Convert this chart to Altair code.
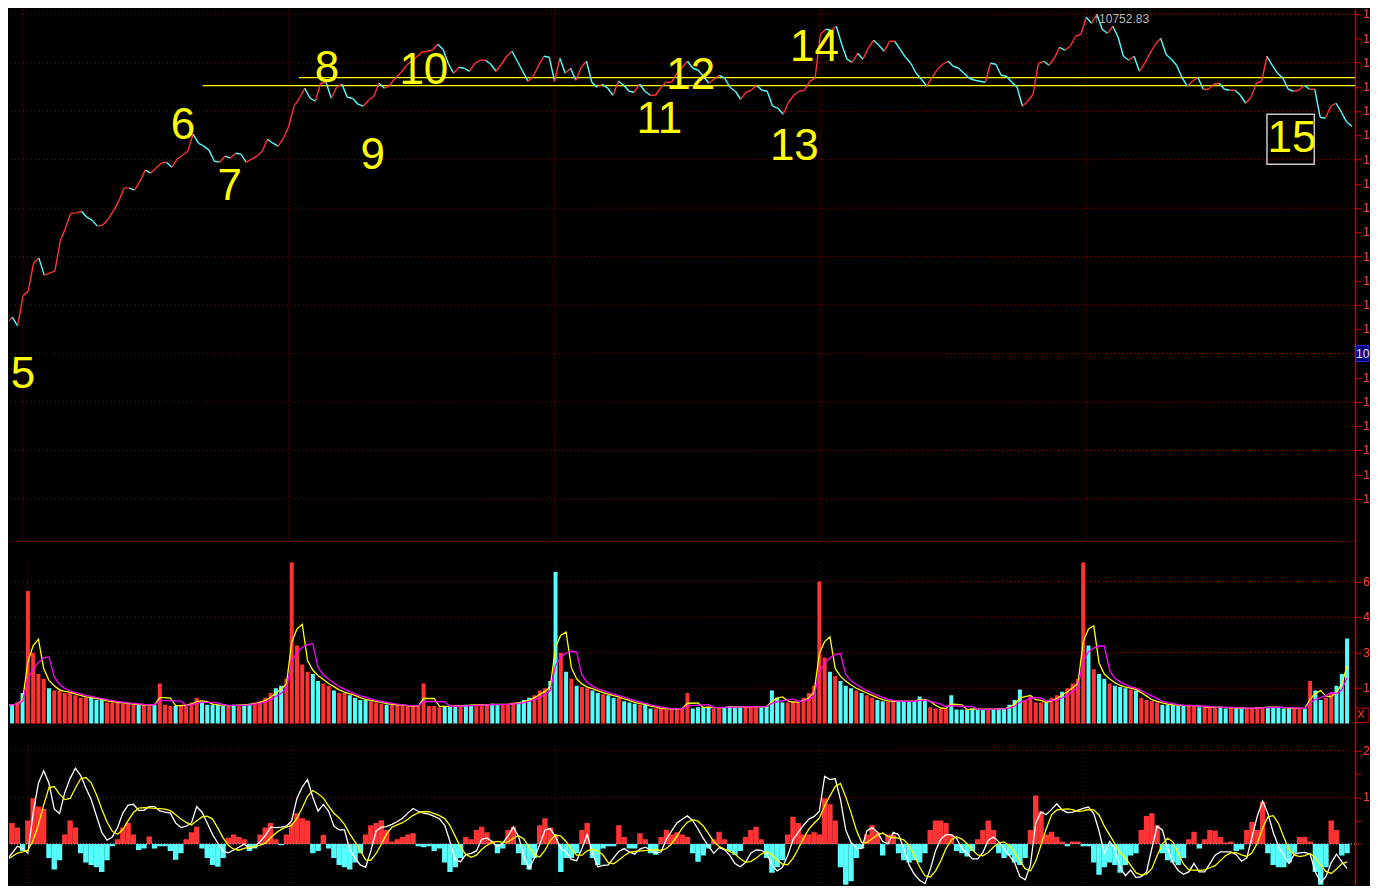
import altair as alt
import pandas as pd

# ---------------- data ----------------
PRICE = [
    10372.8, 10366.5, 10374.0, 10362.8, 10400.3, 10406.5, 10441.5, 10447.8, 10426.5, 10429.0,
    10431.5, 10469.0, 10485.3, 10504.0, 10504.0, 10506.5, 10499.0, 10495.3, 10487.8, 10489.0,
    10496.5, 10506.5, 10519.0, 10535.3, 10535.3, 10532.8, 10544.0, 10557.8, 10554.0, 10560.3,
    10566.5, 10567.8, 10561.5, 10571.5, 10576.5, 10581.5, 10602.8, 10591.5, 10587.8, 10582.8,
    10569.0, 10567.8, 10575.3, 10572.8, 10579.0, 10577.8, 10567.8, 10571.5, 10575.3, 10581.5,
    10596.5, 10591.5, 10587.8, 10597.8, 10612.8, 10637.8, 10647.8, 10660.3, 10647.8, 10644.0,
    10666.5, 10667.8, 10647.8, 10661.5, 10665.3, 10649.0, 10647.8, 10640.3, 10637.8, 10645.3,
    10650.3, 10666.5, 10660.3, 10664.0, 10672.8, 10679.0, 10687.8, 10694.0, 10699.0, 10705.3,
    10706.5, 10707.8, 10715.3, 10709.0, 10691.5, 10679.0, 10686.5, 10685.3, 10681.5, 10691.5,
    10695.3, 10695.3, 10690.3, 10681.5, 10690.3, 10700.3, 10706.5, 10694.0, 10681.5, 10669.0,
    10675.3, 10689.0, 10700.3, 10699.0, 10669.0, 10697.8, 10679.0, 10685.3, 10670.3, 10686.5,
    10694.0, 10667.8, 10661.5, 10665.3, 10660.3, 10651.5, 10669.0, 10664.0, 10656.5, 10655.3,
    10665.3, 10656.5, 10651.5, 10651.5, 10661.5, 10667.8, 10667.8, 10679.0, 10686.5, 10694.0,
    10685.3, 10682.8, 10675.3, 10666.5, 10671.5, 10676.5, 10672.8, 10661.5, 10656.5, 10646.5,
    10655.3, 10657.8, 10664.0, 10657.8, 10656.5, 10637.8, 10635.3, 10627.8, 10642.8, 10651.5,
    10656.5, 10657.8, 10669.0, 10672.8, 10727.8, 10734.0, 10732.8, 10737.8, 10715.3, 10696.5,
    10692.8, 10704.0, 10696.5, 10710.3, 10720.3, 10714.0, 10706.5, 10719.0, 10719.0, 10709.0,
    10699.0, 10691.5, 10679.0, 10671.5, 10662.8, 10674.0, 10684.0, 10690.3, 10694.0, 10687.8,
    10685.3, 10679.0, 10672.8, 10670.3, 10669.0, 10667.8, 10691.5, 10690.3, 10676.5, 10675.3,
    10667.8, 10661.5, 10637.8, 10644.0, 10652.8, 10691.5, 10694.0, 10689.0, 10697.8, 10711.5,
    10707.8, 10712.8, 10725.3, 10727.8, 10749.0, 10741.5, 10752.83, 10734.0, 10729.0, 10737.8,
    10724.0, 10700.3, 10695.3, 10700.3, 10681.5, 10691.5, 10704.0, 10715.3, 10722.8, 10702.8,
    10696.5, 10689.0, 10674.0, 10662.8, 10669.0, 10674.0, 10659.0, 10659.0, 10665.3, 10666.5,
    10659.0, 10657.8, 10657.8, 10651.5, 10641.5, 10649.0, 10666.5, 10669.0, 10700.3, 10689.0,
    10679.0, 10672.8, 10659.0, 10656.5, 10657.8, 10664.0, 10659.0, 10659.0, 10624.0, 10622.8,
    10637.8, 10641.5, 10630.3, 10617.8, 10612.8,
]

VOLUME = [
    8, 8, 9, 13, 56, 30, 21, 19, 15, 14,
    14, 13, 13, 12, 11, 11, 11, 10, 10, 9,
    9, 9, 8.5, 8.5, 8, 8, 8, 8, 8, 17,
    8, 7.5, 7.5, 8, 8, 9, 11, 9, 8, 8,
    8, 7.5, 7.5, 8, 8, 8, 8.5, 9, 9.5, 11,
    13, 15, 16, 19, 68, 33, 25, 22, 21, 18,
    17, 16, 14, 13, 13, 12, 11, 10, 10, 9.5,
    9, 8.5, 8, 8, 8, 7.5, 7.5, 7.5, 7.5, 17,
    7.5, 7.5, 7, 7.5, 7.5, 7.5, 7.5, 8, 8, 8,
    8, 8, 8.5, 8, 8, 8.5, 9, 9, 10, 11,
    12, 14, 15, 18, 64, 30, 22, 19, 16, 15.5,
    15, 14, 13, 12.5, 12, 11, 11, 9.5, 9, 8.5,
    8, 8, 6.5, 6.5, 6.5, 6, 6, 6.5, 6.5, 13,
    6.5, 7, 7, 7, 6.5, 7, 7, 7.5, 7, 7,
    7, 7.5, 7, 7, 7.5, 14, 11, 9, 9, 9.5,
    9, 11, 13, 16, 60, 28, 22, 20, 18, 16,
    15, 14, 13, 12, 11, 10, 9.5, 9.5, 9.5, 9.5,
    9.5, 9.5, 9.5, 11.5, 10, 7, 6.5, 6.5, 6.5, 12,
    6, 6, 6, 6.5, 6, 6, 6.5, 6, 6.5, 6.5,
    8, 10, 14.5, 10, 11.5, 9, 9, 9, 11, 12,
    13.5, 15, 17, 19, 68, 33, 23, 21, 19, 17,
    16, 15.5, 15, 14.5, 14, 11, 10, 9.5, 9, 8,
    8, 8, 7.5, 7.5, 8, 7.5, 7, 7, 7, 7,
    7, 6.5, 7, 6.5, 6.5, 6.5, 6.5, 7, 7, 7,
    7, 7, 6.5, 6.5, 6.5, 6.5, 6.5, 18, 14, 10,
    11, 13, 16, 21, 36,
]

HIST = [
    0.47, 0.45, 0.35, -0.15, 0.5, 0.98, 0.8, 0.75, -0.3, -0.55,
    -0.35, 0.2, 0.5, 0.35, -0.2, -0.4, -0.45, -0.5, -0.6, -0.35,
    -0.05, 0.1, 0.35, 0.45, 0.2, -0.13, -0.1, 0.16, -0.1, -0.05,
    -0.05, -0.15, -0.34, -0.2, 0.1, 0.25, 0.37, -0.1, -0.3, -0.45,
    -0.49, -0.3, 0.13, 0.2, 0.15, 0.1, -0.15, -0.1, 0.2, 0.35,
    0.45, 0.1, -0.03, 0.2, 0.45, 0.66, 0.55, 0.5, -0.2, -0.15,
    0.19, -0.1, -0.3, -0.45, -0.5, -0.55, -0.4, -0.2, 0.2, 0.4,
    0.45, 0.51, 0.3, 0.05, 0.1, 0.15, 0.2, 0.23, -0.05, -0.07,
    -0.05, -0.15, -0.1, -0.4, -0.6, -0.5, -0.3, 0.15, 0.1, 0.3,
    0.37, 0.25, 0.05, -0.2, -0.1, 0.3, 0.37, -0.2, -0.45, -0.55,
    -0.3, 0.4, 0.55, 0.35, 0.2, -0.6, -0.3, -0.3, -0.2, 0.3,
    0.45, -0.3, -0.45, -0.1, -0.05, -0.05, 0.4, 0.15, -0.1, -0.1,
    0.23, 0.1, -0.2, -0.23, 0.15, 0.3, 0.2, 0.25, 0.2, 0.15,
    -0.2, -0.38, -0.25, -0.1, 0.1, 0.26, 0.1, -0.15, -0.23, -0.15,
    0.15, 0.3, 0.37, 0.1, -0.3, -0.62, -0.5, -0.35, 0.2, 0.58,
    0.45, 0.2, 0.2, 0.25, 0.2, 0.98, 0.85, 0.5, -0.5, -1.04,
    -0.8, -0.3, -0.1, 0.2, 0.4, 0.25, -0.25, 0.2, 0.2, -0.2,
    -0.35, -0.4, -0.35, -0.4, -0.2, 0.3, 0.5, 0.5, 0.45, 0.2,
    -0.15, -0.2, -0.27, -0.15, 0.1, 0.3, 0.5, 0.3, -0.2, -0.3,
    -0.25, -0.4, -0.45, -0.3, 0.3, 1.04, 0.7, 0.2, 0.26, 0.15,
    0.05, -0.05, 0.05, 0.05, -0.05, -0.05, -0.4, -0.66, -0.5, -0.4,
    -0.45, -0.62, -0.45, -0.25, -0.2, 0.3, 0.6, 0.66, 0.4, -0.2,
    -0.35, -0.4, -0.45, -0.3, 0.1, 0.26, -0.1, 0.1, 0.3, 0.28,
    0.15, 0.03, 0.05, -0.15, -0.12, 0.3, 0.47, 0.3, 0.9, -0.2,
    -0.45, -0.5, -0.5, -0.4, -0.2, 0.15, 0.15, 0.05, -0.6, -0.9,
    -0.5, 0.5, 0.3, -0.25, -0.2,
]

DIF = [
    -0.34, -0.2, -0.05, -0.1, -0.2, 0.66, 1.3, 1.57, 1.3, 0.75,
    0.65, 1.1, 1.4, 1.62, 1.47, 1.2, 0.95, 0.6, 0.25, 0.08,
    0.15, 0.35, 0.66, 0.83, 0.85, 0.72, 0.72, 0.8, 0.8, 0.71,
    0.68, 0.66, 0.45, 0.35, 0.38, 0.45, 0.8, 0.68, 0.45, 0.2,
    0.02, -0.15, -0.19, -0.13, -0.07, 0.0, -0.1, -0.06, 0.05, 0.18,
    0.36, 0.35, 0.36, 0.38, 0.5, 0.98, 1.22, 1.38, 1.0, 0.7,
    0.85, 0.7, 0.38, 0.3, 0.3, -0.12, -0.3, -0.45, -0.5, -0.15,
    0.28, 0.36, 0.37, 0.42, 0.48, 0.55, 0.66, 0.76, 0.7, 0.66,
    0.64, 0.59, 0.54, 0.4, 0.05, -0.34, -0.38, -0.23, -0.2, -0.15,
    0.1, 0.13, 0.05, -0.06, 0.02, 0.17, 0.36, 0.16, -0.27, -0.53,
    -0.3, -0.02, 0.3, 0.33, 0.15, -0.1, -0.17, -0.33, -0.36, -0.1,
    0.2, -0.2, -0.49, -0.46, -0.45, -0.3, -0.16, -0.1, -0.17, -0.22,
    -0.11, -0.07, -0.13, -0.19, -0.17, 0.1, 0.28, 0.45, 0.53, 0.6,
    0.5, 0.32, 0.12, -0.05, -0.2, -0.08, -0.12, -0.24, -0.42, -0.49,
    -0.4, -0.2, -0.13, -0.14, -0.2, -0.45, -0.58, -0.5, -0.25, 0.09,
    0.25, 0.4, 0.53, 0.59, 0.7, 1.45, 1.38, 1.4, 0.95, 0.3,
    0.03, -0.09, -0.1, 0.28, 0.35, 0.25, 0.05, 0.0, 0.25, 0.2,
    -0.1, -0.45, -0.65, -0.78, -0.85, -0.55, -0.15, 0.1, 0.2, 0.2,
    0.12, -0.1, -0.2, -0.32, -0.32, -0.18, 0.08, 0.15, 0.05, -0.1,
    -0.25, -0.4, -0.7, -0.77, -0.45, 0.45, 0.68, 0.63, 0.74, 0.86,
    0.73, 0.67, 0.68, 0.72, 0.76, 0.79, 0.65, 0.28, -0.2, 0.05,
    -0.1, -0.5, -0.68, -0.56, -0.72, -0.7, -0.6, -0.1, 0.38, 0.3,
    -0.1, -0.4, -0.57, -0.65, -0.6, -0.42, -0.6, -0.6, -0.42, -0.24,
    -0.17, -0.17, -0.17, -0.23, -0.37, -0.3, 0.15, 0.6, 0.92, 0.65,
    0.25, -0.05, -0.25, -0.42, -0.22, -0.19, -0.18, -0.22, -0.6, -0.83,
    -0.7, -0.4, -0.22, -0.38, -0.53,
]

assert len(PRICE) == len(VOLUME) == len(HIST) == len(DIF) == 255

DAY_STARTS = [4, 54, 104, 154, 204]

PRICE_TICKS = [10752.75, 10722.44, 10692.13, 10661.81, 10631.50, 10601.19, 10570.88,
               10540.56, 10510.25, 10479.94, 10449.63, 10419.31, 10389.00, 10358.69,
               10328.38, 10298.06, 10267.75, 10237.44, 10207.13, 10176.81, 10146.50]
PRICE_GRID = PRICE_TICKS[::2]
VOL_TICKS = [15, 30, 45, 60]
MACD_TICKS = [0, 0.5, 1, 1.5, 2]
MACD_LABELS = [1, 2]

LEVEL_PRICE = [10673.6, 10663.6]
LEVEL_FROM = [55.9, 37.8]
LEVEL_TO = [254.56, 254.56]

ANNOT_TEXT = ["5", "6", "7", "8", "9", "10", "11", "12", "13", "14", "15"]
ANNOT_X = [4.0, 34.1, 42.9, 61.2, 69.8, 79.4, 123.7, 129.6, 149.1, 152.9, 242.7]
ANNOT_Y = [10301.5, 10612.8, 10536.5, 10684.0, 10575.3, 10681.5, 10620.3, 10675.3,
           10586.5, 10710.3, 10596.5]
BOX15 = {"x0": [238.0], "x1": [246.9], "y0": [10627.8], "y1": [10565.3]}

MAX_TEXT = ["↑10752.83"]
MAX_X = [205.3]
MAX_Y = [10747.1]

CUR_TEXT = ["10328.38"]
CUR_PRICE = [10328.38]
CUR_TOP = [10338.4]
CUR_BOT = [10318.4]

VOL_UNIT_TEXT = ["X10"]

# ---------------- styling ----------------
RED = "#ff3333"
CYAN = "#55ffff"
YEL = "#ffff00"
MAG = "#ff00ff"
GRID = "#a80000"
AXIS_RED = "#d00000"
LABEL_RED = "#ff4040"
SEP = "#8b0000"
FONT = "Liberation Sans"
ZW = "\u200b"                 # zero-width cut mark: labels are cut at the right edge as in the reference

W = 1347                      # plot width: right axis at page x = 1355
H_PRICE, H_VOL, H_MACD = 533, 182, 161
LAB_X = W + 8
LAB_LIMIT = 7

N = len(PRICE)
df = pd.DataFrame({"i": list(range(N)), "price": PRICE, "vol": VOLUME,
                   "hist": HIST, "dif": DIF})
df["i2"] = df["i"] + 1
df["price2"] = df["price"].shift(-1)
prev = df["price"].shift(1).fillna(df["price"])
df["bar"] = ["up" if p >= q else "down" for p, q in zip(df["price"], prev)]
df["hs"] = ["up" if h >= 0 else "down" for h in df["hist"]]
seg = df.iloc[:-1].copy()
seg["seg"] = ["up" if b >= a else "down" for a, b in zip(seg["price"], seg["price2"])]

COLOR = alt.Scale(domain=["up", "down"], range=[RED, CYAN])

XS = alt.Scale(domain=[1.372, 254.56], nice=False, zero=False)


def X(field, domain=True):
    ax = alt.Axis(title=None, labels=False, ticks=False, grid=False, domain=domain,
                  domainColor=SEP, domainWidth=2)
    return alt.X(field, type="quantitative", scale=XS, axis=ax)


def yaxis(values):
    return alt.Axis(title=None, orient="right", values=values, labels=False, grid=False,
                    domainColor=AXIS_RED, domainWidth=1.5, tickColor=AXIS_RED, tickSize=6)


PY = alt.Scale(domain=[10092.75, 10759.0], nice=False, zero=False)
P_AX = yaxis(PRICE_TICKS)
VY = alt.Scale(domain=[0, 76.7], nice=False, zero=False)
V_AX = yaxis(VOL_TICKS)
MY = alt.Scale(domain=[-0.873, 2.574], nice=False, zero=False)
M_AX = yaxis(MACD_TICKS)


def PYE(f):
    return alt.Y(f, type="quantitative", scale=PY, axis=P_AX)


def VYE(f):
    return alt.Y(f, type="quantitative", scale=VY, axis=V_AX)


def MYE(f):
    return alt.Y(f, type="quantitative", scale=MY, axis=M_AX)


def axis_labels(values, fmt, yfn):
    d = pd.DataFrame({"v": values, "t": [format(v, fmt) for v in values]})
    return alt.Chart(d).mark_text(
        font=FONT, fontSize=12, color=LABEL_RED, align="left", baseline="middle",
        limit=LAB_LIMIT, ellipsis=ZW).encode(x=alt.value(LAB_X), y=yfn("v"), text="t:N")


day_df = pd.DataFrame({"d": DAY_STARTS})

# ---------------- price panel ----------------
p_grid = alt.Chart(pd.DataFrame({"g": PRICE_GRID})).mark_rule(
    color=GRID, strokeDash=[1, 3]).encode(y=PYE("g"))
p_day = alt.Chart(day_df).mark_rule(color=GRID, strokeDash=[1, 3]).encode(x=X("d"))
p_lvl = alt.Chart(pd.DataFrame({"x0": LEVEL_FROM, "x1": LEVEL_TO, "lv": LEVEL_PRICE})).mark_rule(
    color=YEL, strokeWidth=1.4).encode(x=X("x0"), x2="x1", y=PYE("lv"))
p_line = alt.Chart(seg).mark_rule(strokeWidth=1.4, clip=True).encode(
    x=X("i"), x2="i2", y=PYE("price"), y2="price2",
    color=alt.Color("seg:N", scale=COLOR, legend=None))
p_ann = alt.Chart(pd.DataFrame({"t": ANNOT_TEXT, "ax": ANNOT_X, "ay": ANNOT_Y})).mark_text(
    font=FONT, fontSize=44, color=YEL, align="center", baseline="middle").encode(
    x=X("ax"), y=PYE("ay"), text="t:N")
p_box = alt.Chart(pd.DataFrame(BOX15)).mark_rect(
    fillOpacity=0, stroke="#c8c8c8", strokeWidth=1.5).encode(
    x=X("x0"), x2="x1", y=PYE("y0"), y2="y1")
p_max = alt.Chart(pd.DataFrame({"t": MAX_TEXT, "mx": MAX_X, "my": MAX_Y})).mark_text(
    font=FONT, fontSize=12, color="#b8b8b8", align="left", baseline="middle").encode(
    x=X("mx"), y=PYE("my"), text="t:N")
p_lab = axis_labels([v for v in PRICE_TICKS if v not in CUR_PRICE], ".2f", PYE)
cur_df = pd.DataFrame({"t": CUR_TEXT, "p": CUR_PRICE, "p0": CUR_TOP, "p1": CUR_BOT})
p_cur_box = alt.Chart(cur_df).mark_rect(fill="#000080", stroke="#3030d0", strokeWidth=1).encode(
    x=alt.value(W + 1), x2=alt.value(W + 14), y=PYE("p0"), y2="p1")
p_cur_txt = alt.Chart(cur_df).mark_text(
    font=FONT, fontSize=12, color="#e8e8e8", align="left", baseline="middle",
    limit=13.5, ellipsis=ZW).encode(x=alt.value(W + 1), y=PYE("p"), text="t:N")

price = alt.layer(p_grid, p_day, p_lvl, p_line, p_ann, p_box, p_max, p_lab, p_cur_box, p_cur_txt
                  ).properties(width=W, height=H_PRICE)

# ---------------- volume panel ----------------
v_grid = alt.Chart(pd.DataFrame({"g": VOL_TICKS})).mark_rule(
    color=GRID, strokeDash=[1, 3]).encode(y=VYE("g"))
v_day = alt.Chart(day_df).mark_rule(color=GRID, strokeDash=[1, 3]).encode(
    x=X("d"), y=alt.Y(datum=68, type="quantitative", scale=VY, axis=V_AX), y2=alt.Y2(datum=0))
v_bar = alt.Chart(df).mark_bar(size=4, clip=True).encode(
    x=X("i"), y=VYE("vol"), color=alt.Color("bar:N", scale=COLOR, legend=None))
v_ma1 = alt.Chart(df).transform_window(
    ma_s="mean(vol)", frame=[-2, 0], sort=[alt.SortField("i")]).mark_line(
    color=YEL, strokeWidth=1.3, clip=True).encode(x=X("i"), y=VYE("ma_s"))
v_ma2 = alt.Chart(df).transform_window(
    ma_l="mean(vol)", frame=[-4, 0], sort=[alt.SortField("i")]).mark_line(
    color=MAG, strokeWidth=1.3, clip=True).encode(x=X("i"), y=VYE("ma_l"))
v_lab = axis_labels(VOL_TICKS, "d", VYE)
unit_df = pd.DataFrame({"t": VOL_UNIT_TEXT, "u0": [6.6], "u1": [0.6], "um": [3.6]})
v_unit_box = alt.Chart(unit_df).mark_rect(fill="black", stroke=AXIS_RED, strokeWidth=1).encode(
    x=alt.value(W + 1), x2=alt.value(W + 14), y=VYE("u0"), y2="u1")
v_unit_txt = alt.Chart(unit_df).mark_text(
    font=FONT, fontSize=11, color=LABEL_RED, align="left", baseline="middle",
    limit=13, ellipsis=ZW).encode(x=alt.value(W + 2), y=VYE("um"), text="t:N")

volume = alt.layer(v_grid, v_day, v_bar, v_ma1, v_ma2, v_lab, v_unit_box, v_unit_txt
                   ).properties(width=W, height=H_VOL)

# ---------------- MACD panel ----------------
m_grid = alt.Chart(pd.DataFrame({"g": MACD_LABELS})).mark_rule(
    color=GRID, strokeDash=[1, 3]).encode(y=MYE("g"))
m_day = alt.Chart(day_df).mark_rule(color=GRID, strokeDash=[1, 3]).encode(
    x=X("d", domain=False), y=alt.Y(datum=2.1, type="quantitative", scale=MY, axis=M_AX),
    y2=alt.Y2(datum=-0.873))
m_bar = alt.Chart(df).mark_bar(size=5.4, clip=True).encode(
    x=X("i", domain=False), y=MYE("hist"), y2=alt.Y2(datum=0),
    color=alt.Color("hs:N", scale=COLOR, legend=None))
m_zero = alt.Chart(pd.DataFrame({"z": [0]})).mark_rule(
    color="#ffffff", strokeDash=[1, 2], opacity=0.8).encode(y=MYE("z"))
m_dif = alt.Chart(df).mark_line(color="#ffffff", strokeWidth=1.3, clip=True).encode(
    x=X("i", domain=False), y=MYE("dif"))
m_dea = alt.Chart(df).transform_window(
    dea="mean(dif)", frame=[-3, 0], sort=[alt.SortField("i")]).mark_line(
    color=YEL, strokeWidth=1.3, clip=True).encode(x=X("i", domain=False), y=MYE("dea"))
m_lab = axis_labels(MACD_LABELS, ".2f", MYE)

macd = alt.layer(m_grid, m_day, m_bar, m_zero, m_dif, m_dea, m_lab
                 ).properties(width=W, height=H_MACD)

chart = alt.vconcat(price, volume, macd, spacing=0, bounds="flush").properties(
    padding=0, background="black"
).configure_view(strokeWidth=0, fill="black")

chart.save("out.html", embed_options={"renderer": "svg", "actions": False})
